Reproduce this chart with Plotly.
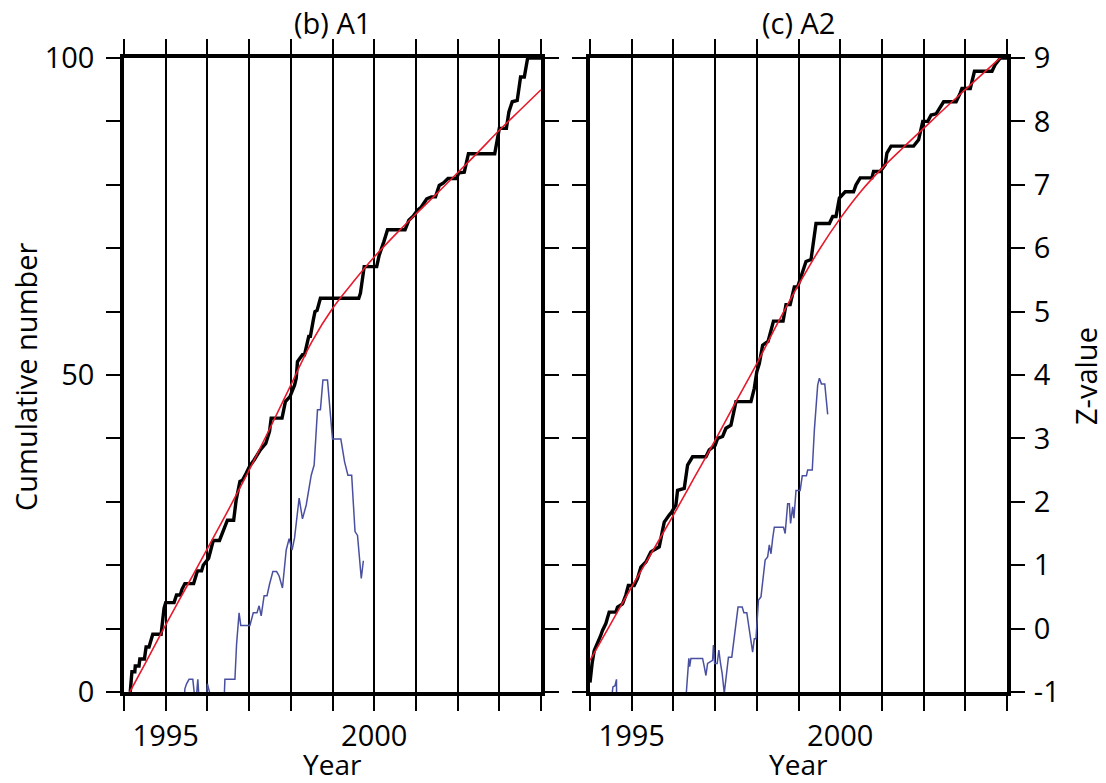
import plotly.graph_objects as go

# ---------------- data ----------------
# Panel (b) A1 : cumulative number (black staircase vertices)
a1_year = [1994.15, 1994.19, 1994.26, 1994.27, 1994.36, 1994.38, 1994.49, 1994.53, 1994.60, 1994.69,
           1994.89, 1994.96, 1995.00, 1995.20, 1995.26, 1995.35, 1995.39, 1995.46, 1995.67, 1995.76,
           1995.86, 1995.90, 1996.03, 1996.14, 1996.29, 1996.37, 1996.43, 1996.48, 1996.63, 1996.69,
           1996.78, 1996.84, 1996.93, 1997.02, 1997.12, 1997.17, 1997.27, 1997.40, 1997.49, 1997.53,
           1997.79, 1997.87, 1997.98, 1998.03, 1998.09, 1998.13, 1998.16, 1998.28, 1998.33, 1998.43,
           1998.47, 1998.54, 1998.58, 1998.63, 1998.71, 1999.63, 1999.67, 1999.76, 1999.84, 2000.06,
           2000.12, 2000.19, 2000.23, 2000.32, 2000.74, 2000.83, 2000.94, 2001.04, 2001.13, 2001.26,
           2001.37, 2001.47, 2001.56, 2001.66, 2001.77, 2001.97, 2002.03, 2002.16, 2002.26, 2002.89,
           2003.00, 2003.17, 2003.23, 2003.31, 2003.43, 2003.51, 2003.60, 2003.68, 2004.00]
a1_cum = [0.0, 3.2, 3.2, 4.1, 4.1, 5.2, 5.2, 7.1, 7.1, 9.1,
          9.1, 13.2, 14.1, 14.1, 15.3, 15.3, 16.2, 17.1, 17.1, 19.1,
          19.1, 20.0, 21.1, 23.9, 23.9, 25.3, 26.3, 27.1, 27.1, 30.3,
          33.2, 33.4, 34.5, 35.7, 36.6, 37.1, 38.2, 39.2, 41.1, 43.2,
          43.2, 45.8, 46.6, 47.4, 48.4, 49.5, 52.1, 53.2, 53.2, 56.1,
          56.1, 58.7, 60.0, 60.2, 62.1, 62.1, 62.9, 67.1, 67.1, 67.1,
          68.9, 70.5, 71.0, 72.9, 72.9, 74.4, 75.1, 76.0, 76.5, 77.8,
          78.1, 78.1, 79.9, 80.3, 81.0, 81.0, 81.9, 82.0, 84.9, 84.9,
          88.9, 88.9, 91.5, 93.1, 93.3, 97.0, 97.0, 100.0, 100.0]

# Panel (b) A1 : fitted curve (red)
a1_fit_year = [1994.14, 1994.5, 1995.0, 1995.5, 1996.0, 1996.5, 1997.0, 1997.5, 1998.0, 1998.5,
               1999.0, 1999.5, 2000.0, 2000.5, 2001.0, 2001.5, 2002.0, 2002.5, 2003.0, 2003.5, 2004.0]
a1_fit_cum = [0.0, 4.4, 10.6, 16.6, 22.6, 28.7, 35.0, 41.6, 48.4, 55.2,
              60.5, 64.7, 68.6, 72.1, 75.4, 78.6, 81.9, 85.2, 88.6, 91.8, 95.0]

# Panel (b) A1 : Z-value (blue)
a1_z_year = [1995.40, 1995.46, 1995.50, 1995.56, 1995.65, 1995.69, 1995.74, 1995.77, 1995.80, 1995.98,
             1996.00, 1996.05, 1996.08, 1996.38, 1996.42, 1996.66, 1996.70, 1996.76, 1996.80, 1997.02,
             1997.10, 1997.19, 1997.24, 1997.29, 1997.36, 1997.43, 1997.49, 1997.57, 1997.66, 1997.72,
             1997.80, 1997.89, 1997.96, 1998.03, 1998.09, 1998.20, 1998.28, 1998.37, 1998.49, 1998.56,
             1998.64, 1998.71, 1998.77, 1998.88, 1999.00, 1999.20, 1999.29, 1999.37, 1999.46, 1999.54,
             1999.60, 1999.69, 1999.74]
a1_z = [-1.6, -0.95, -0.87, -0.80, -0.80, -1.05, -1.05, -0.80, -1.10, -1.10,
        -0.87, -1.00, -1.50, -1.50, -0.80, -0.80, -0.24, 0.25, 0.05, 0.05,
        0.25, 0.25, 0.36, 0.20, 0.52, 0.52, 0.70, 0.90, 0.90, 0.83,
        0.64, 1.24, 1.42, 1.24, 1.43, 2.06, 1.73, 1.95, 2.42, 2.58,
        3.45, 3.45, 3.92, 3.92, 2.99, 2.99, 2.63, 2.42, 2.42, 1.53,
        1.47, 0.79, 1.07]

# Panel (c) A2 : cumulative number (black staircase vertices)
a2_year = [1994.00, 1994.02, 1994.05, 1994.10, 1994.18, 1994.25, 1994.30, 1994.38, 1994.46, 1994.62,
           1994.66, 1994.78, 1994.86, 1994.92, 1995.06, 1995.14, 1995.22, 1995.34, 1995.46, 1995.58,
           1995.66, 1995.74, 1995.78, 1995.90, 1995.96, 1996.06, 1996.10, 1996.26, 1996.34, 1996.46,
           1996.78, 1996.86, 1997.00, 1997.06, 1997.18, 1997.26, 1997.38, 1997.50, 1997.86, 1997.94,
           1998.00, 1998.06, 1998.14, 1998.27, 1998.40, 1998.63, 1998.70, 1998.80, 1998.90, 1998.98,
           1999.18, 1999.30, 1999.42, 1999.74, 1999.82, 1999.90, 1999.98, 2000.12, 2000.32, 2000.38,
           2000.48, 2000.76, 2000.80, 2000.96, 2001.08, 2001.12, 2001.22, 2001.76, 2001.88, 2001.98,
           2002.10, 2002.18, 2002.30, 2002.48, 2002.78, 2002.88, 2002.92, 2003.12, 2003.22, 2003.64,
           2003.72, 2003.84, 2004.00]
a2_cum = [1.5, 2.9, 4.5, 6.5, 7.6, 8.8, 9.7, 10.8, 12.6, 12.6,
          13.4, 13.9, 15.3, 16.8, 16.8, 17.9, 19.7, 20.5, 22.1, 22.6,
          22.9, 25.5, 26.8, 27.9, 28.4, 29.5, 31.8, 32.1, 35.8, 37.1,
          37.1, 38.2, 38.9, 40.0, 40.3, 41.6, 42.1, 45.8, 45.8, 47.9,
          50.5, 51.8, 54.7, 55.3, 58.5, 58.5, 61.1, 61.1, 63.9, 63.9,
          67.9, 68.2, 73.9, 73.9, 75.0, 75.0, 77.9, 78.9, 78.9, 80.0,
          81.1, 81.1, 82.1, 82.1, 83.2, 85.0, 86.1, 86.1, 87.1, 90.0,
          90.0, 91.0, 91.2, 93.1, 93.1, 94.5, 95.2, 95.2, 97.9, 97.9,
          99.0, 100.0, 100.0]

# Panel (c) A2 : fitted curve (red)
a2_fit_year = [1994.0, 1994.5, 1995.0, 1995.5, 1996.0, 1996.5, 1997.0, 1997.5, 1998.0, 1998.5,
               1999.0, 1999.5, 2000.0, 2000.5, 2001.0, 2001.5, 2002.0, 2002.5, 2003.0, 2003.5, 2004.0]
a2_fit_cum = [5.0, 10.8, 16.6, 22.2, 27.9, 33.8, 39.7, 45.8, 51.8, 58.2,
              64.2, 69.8, 74.7, 79.0, 82.6, 85.8, 88.9, 92.0, 95.0, 98.0, 101.0]

# Panel (c) A2 : Z-value (blue)
a2_z_year = [1994.50, 1994.55, 1994.60, 1994.635, 1994.64,
             1996.28, 1996.32, 1996.37, 1996.39, 1996.42, 1996.50, 1996.70, 1996.74, 1996.78, 1996.82,
             1996.94, 1996.96, 1996.99, 1997.05, 1997.09, 1997.13, 1997.17, 1997.22, 1997.26, 1997.32,
             1997.40, 1997.55, 1997.65, 1997.69, 1997.76, 1997.81, 1997.90, 1997.94, 1997.98, 1998.04,
             1998.10, 1998.20, 1998.26, 1998.30, 1998.34, 1998.38, 1998.42, 1998.64, 1998.68, 1998.74,
             1998.78, 1998.81, 1998.86, 1998.89, 1998.94, 1999.04, 1999.09, 1999.19, 1999.22, 1999.33,
             1999.38, 1999.46, 1999.50, 1999.55, 1999.63, 1999.70]
a2_z = [-1.2, -0.92, -0.90, -0.80, -1.3,
        -1.3, -0.92, -0.47, -0.60, -0.47, -0.47, -0.47, -0.60, -0.74, -0.55,
        -0.50, -0.26, -0.55, -0.55, -0.34, -0.55, -0.71, -1.02, -0.76, -0.45,
        -0.45, 0.34, 0.34, 0.25, 0.25, 0.05, -0.37, -0.16, -0.16, 0.45,
        0.50, 1.08, 1.13, 1.32, 1.18, 1.42, 1.60, 1.60, 1.50, 1.97,
        1.97, 1.66, 1.92, 1.74, 2.18, 2.18, 2.41, 2.41, 2.50, 2.50,
        3.13, 3.84, 3.95, 3.86, 3.86, 3.38]

panel_titles = ["(b) A1", "(c) A2"]
cum_ticks = [0, 10, 20, 30, 40, 50, 60, 70, 80, 90, 100]
cum_ticktext = ["0", "", "", "", "", "50", "", "", "", "", "100"]
z_ticks = [-1, 0, 1, 2, 3, 4, 5, 6, 7, 8, 9]

# ---------------- styling ----------------
FONT = "Open Sans"
BLACK_W = 3.4
RED = "#e8192c"
BLUE = "#4a50a0"

fig = go.Figure()

fig.add_trace(go.Scatter(x=a1_year, y=a1_cum, mode="lines", line=dict(color="black", width=BLACK_W),
                         xaxis="x", yaxis="y", showlegend=False))
fig.add_trace(go.Scatter(x=a1_fit_year, y=a1_fit_cum, mode="lines", line=dict(color=RED, width=1.6, shape="spline"),
                         xaxis="x", yaxis="y", showlegend=False))
fig.add_trace(go.Scatter(x=a1_z_year, y=a1_z, mode="lines", line=dict(color=BLUE, width=1.5),
                         xaxis="x", yaxis="y2", showlegend=False))

fig.add_trace(go.Scatter(x=a2_year, y=a2_cum, mode="lines", line=dict(color="black", width=BLACK_W),
                         xaxis="x2", yaxis="y3", showlegend=False))
fig.add_trace(go.Scatter(x=a2_fit_year, y=a2_fit_cum, mode="lines", line=dict(color=RED, width=1.6, shape="spline"),
                         xaxis="x2", yaxis="y3", showlegend=False))
fig.add_trace(go.Scatter(x=a2_z_year, y=a2_z, mode="lines", line=dict(color=BLUE, width=1.5),
                         xaxis="x2", yaxis="y4", showlegend=False))

L, R, T, B = 124, 99, 58, 91
W, H = 1106, 783
pw = W - L - R
ph = H - T - B

def px_x(p):
    return (p - L) / pw

def px_y(p):
    return (H - B - p) / ph

xcommon = dict(range=[1994, 2004], tickmode="linear", tick0=1995, dtick=5,
               ticks="outside", ticklen=15, tickwidth=1.5, tickcolor="black",
               showline=True, linewidth=3.5, linecolor="black", mirror="allticks",
               showgrid=True, gridcolor="black", gridwidth=1.5, zeroline=False,
               tickfont=dict(family=FONT, size=29, color="black"),
               minor=dict(tick0=1994, dtick=1, ticks="outside", ticklen=8, tickwidth=1.5,
                          tickcolor="black", showgrid=True, gridcolor="black", gridwidth=1.5))

ycum = dict(range=[0, 100], tickmode="array", tickvals=cum_ticks,
            ticks="outside", ticklen=14, tickwidth=1.5, tickcolor="black",
            showline=True, linewidth=3.5, linecolor="black", mirror="allticks",
            showgrid=False, zeroline=False,
            tickfont=dict(family=FONT, size=29, color="black"))

yz = dict(range=[-1, 9], tickmode="array", tickvals=z_ticks,
          ticks="outside", ticklen=14, tickwidth=1.5, tickcolor="black",
          showline=False, showgrid=False, zeroline=False,
          tickfont=dict(family=FONT, size=29, color="black"))

x1_dom = [0, 417 / pw]
x2_dom = [px_x(590), 1]

fig.update_layout(
    width=W, height=H,
    margin=dict(l=L, r=R, t=T, b=B),
    paper_bgcolor="white", plot_bgcolor="white",
    font=dict(family=FONT, color="black"),
    xaxis=dict(domain=x1_dom, anchor="y", **xcommon),
    xaxis2=dict(domain=x2_dom, anchor="y3", **xcommon),
    yaxis=dict(anchor="x", ticktext=cum_ticktext, showticklabels=True, ticklabelstandoff=6, **ycum),
    yaxis2=dict(anchor="x", overlaying="y", side="right", showticklabels=False, **yz),
    yaxis3=dict(anchor="x2", showticklabels=False, **ycum),
    yaxis4=dict(anchor="x2", overlaying="y3", side="right", showticklabels=True,
                ticklabelstandoff=6, ticktext=[str(v) for v in z_ticks], **yz),
)

ann = []
for dom, title in zip([x1_dom, x2_dom], panel_titles):
    cx = (dom[0] + dom[1]) / 2
    ann.append(dict(text=title, x=cx, y=px_y(23), xref="paper", yref="paper",
                    xanchor="center", yanchor="middle", showarrow=False,
                    font=dict(family=FONT, size=29)))
    ann.append(dict(text="Year", x=cx, y=px_y(784), xref="paper", yref="paper",
                    xanchor="center", yanchor="bottom", showarrow=False, borderpad=0,
                    font=dict(family=FONT, size=28)))
ann.append(dict(text="Cumulative number", x=px_x(25), y=px_y(377), xref="paper", yref="paper",
                xanchor="center", yanchor="middle", textangle=-90, showarrow=False,
                font=dict(family=FONT, size=29)))
ann.append(dict(text="Z-value", x=px_x(1085), y=px_y(376), xref="paper", yref="paper",
                xanchor="center", yanchor="middle", textangle=-90, showarrow=False,
                font=dict(family=FONT, size=29)))
fig.update_layout(annotations=ann)

fig.write_html("out.html")
